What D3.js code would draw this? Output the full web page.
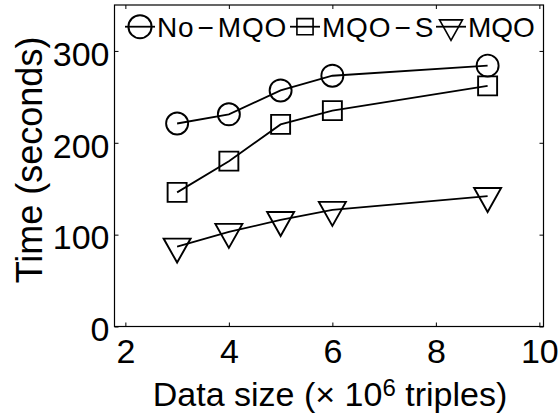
<!DOCTYPE html>
<html>
<head>
<meta charset="utf-8">
<script src="https://cdn.jsdelivr.net/npm/d3@7"></script>
<style>
  body { margin: 0; background: #fff; }
  text { font-family: "Liberation Sans", Arial, Helvetica, sans-serif; fill: #000; }
</style>
</head>
<body>
<script>
// Data
const SIZES    = [3, 4, 5, 6, 9];
const NO_MQO   = [221, 231, 257, 273, 284];
const MQO_S    = [146, 180, 220, 235, 262];
const MQO      = [87, 103, 116, 127, 142];
const NAMES    = ["No\u200a\u2212\u200aMQO", "MQO\u200a\u2212\u200aS", "MQO"];
const SHAPES   = ["circle", "square", "triangle"];
const X_TICKS  = [2, 4, 6, 8, 10];
const Y_TICKS  = [0, 100, 200, 300];

// Figure dimensions
const W = 558, H = 414;
const margin = { top: 5, right: 14.5, bottom: 87.5, left: 114.5 };
const FIG_WIDTH  = W - margin.left - margin.right;
const FIG_HEIGHT = H - margin.top - margin.bottom;

const TICK_FONT = 34;

const x = d3.scaleLinear().domain([1.79, 10.08]).range([0, FIG_WIDTH]);
const y = d3.scaleLinear().domain([0, 350]).range([FIG_HEIGHT, 0]);

const svg = d3.select("body").append("svg")
    .attr("width", W)
    .attr("height", H);
const g = svg.append("g")
    .attr("transform", `translate(${margin.left},${margin.top})`);

// marker paths, centred on 0,0
const marker = shape => {
  if (shape === "circle") return `M11,0A11,11 0 1 1 -11,0A11,11 0 1 1 11,0Z`;
  if (shape === "square") return `M-9.5,-9.5H9.5V9.5H-9.5Z`;
  // downward triangle, centroid on the point
  return `M-13.5,-8H13.5L0,16Z`;
};

// Axes (ticks inside, box on)
const stripAxis = a => {
  a.select(".domain").remove();
  a.selectAll("line").attr("stroke", "#000").attr("stroke-width", 1);
};

g.append("g")
  .attr("transform", `translate(0,${FIG_HEIGHT})`)
  .call(d3.axisBottom(x).tickValues(X_TICKS).tickSize(-4).tickPadding(12.5))
  .call(stripAxis)
  .call(a => a.selectAll("text").attr("font-size", TICK_FONT).attr("font-family", null).attr("dy", "0.71em"));

g.append("g")
  .call(d3.axisTop(x).tickValues(X_TICKS).tickSize(-4).tickFormat(""))
  .call(stripAxis);

g.append("g")
  .call(d3.axisLeft(y).tickValues(Y_TICKS).tickSize(-4).tickPadding(5))
  .call(stripAxis)
  .call(a => a.selectAll("text").attr("font-size", TICK_FONT).attr("font-family", null).attr("dy", "0.42em"));

g.append("g")
  .attr("transform", `translate(${FIG_WIDTH},0)`)
  .call(d3.axisRight(y).tickValues(Y_TICKS).tickSize(-4).tickFormat(""))
  .call(stripAxis);

g.append("rect")
  .attr("width", FIG_WIDTH)
  .attr("height", FIG_HEIGHT)
  .attr("fill", "none")
  .attr("stroke", "#000")
  .attr("stroke-width", 1.2);

// Series
const series = [NO_MQO, MQO_S, MQO].map((vals, i) => ({
  name: NAMES[i],
  shape: SHAPES[i],
  points: SIZES.map((s, j) => ({ s, v: vals[j] }))
}));

const line = d3.line().x(d => x(d.s)).y(d => y(d.v));

series.forEach(ser => {
  g.append("path")
    .attr("d", line(ser.points))
    .attr("fill", "none")
    .attr("stroke", "#000")
    .attr("stroke-width", 1.8);

  g.selectAll(null)
    .data(ser.points)
    .join("path")
      .attr("d", marker(ser.shape))
      .attr("transform", d => `translate(${x(d.s)},${y(d.v)})`)
      .attr("fill", "none")
      .attr("stroke", "#000")
      .attr("stroke-width", 1.9);
});

// Legend (item starts, relative to plot left)
const LEG_FONT = 28;
const LEG_X = [10.5, 175.5, 321.5];
const ly = 21.7;
series.forEach((ser, i) => {
  const item = g.append("g").attr("transform", `translate(${LEG_X[i]},${ly})`);
  item.append("line")
    .attr("x1", 0).attr("x2", 30)
    .attr("stroke", "#000").attr("stroke-width", 1.8);
  item.append("path")
    .attr("d", marker(ser.shape))
    .attr("transform", `translate(15,0) scale(${ser.shape === "circle" ? 1.05 : 0.85})`)
    .attr("fill", "none").attr("stroke", "#000").attr("stroke-width", 1.9);
  item.append("text")
    .attr("x", 32)
    .attr("dy", "0.36em")
    .attr("font-size", LEG_FONT)
    .attr("letter-spacing", i < 2 ? 0.8 : 0)
    .text(ser.name);
});

// Axis titles
const xl = svg.append("text")
  .attr("x", margin.left + FIG_WIDTH / 2 + 1)
  .attr("y", 406)
  .attr("text-anchor", "middle")
  .attr("font-size", 34);
xl.append("tspan").text("Data size (\u00d7 10");
xl.append("tspan").attr("font-size", 24).attr("dy", -10).text("6");
xl.append("tspan").attr("dy", 10).text(" triples)");

svg.append("text")
  .attr("transform", `translate(42,160) rotate(-90)`)
  .attr("text-anchor", "middle")
  .attr("font-size", 36)
  .text("Time (seconds)");
</script>
</body>
</html>
